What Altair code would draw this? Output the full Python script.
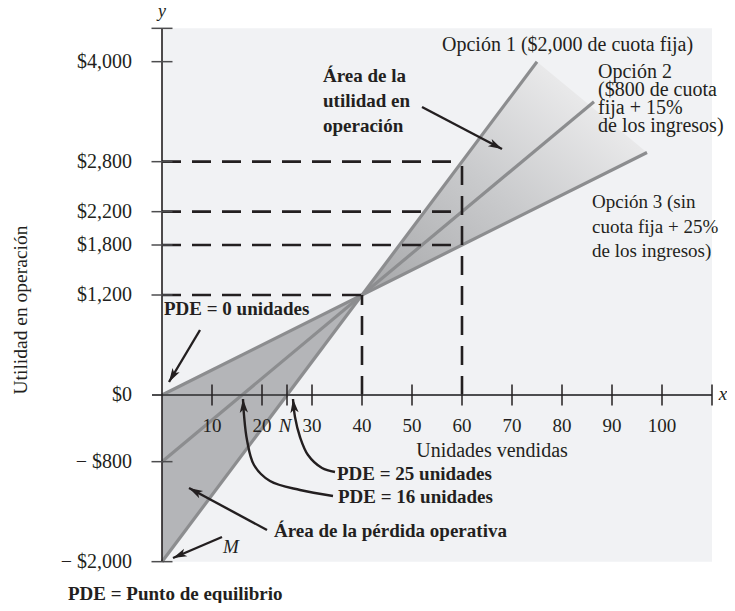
import math
import altair as alt
import pandas as pd

# ---------------- data ----------------
opt_names = ["Opción 1", "Opción 2", "Opción 3"]
opt_x_start = [0, 0, 0]
opt_y_start = [-2000, -800, 0]
opt_x_end = [75, 86.4, 97]
opt_y_end = [4000, 3520, 2910]

loss_x = [0, 40]
loss_low = [-2000, 1200]
loss_high = [0, 1200]

profit_x = [40, 75, 97]
profit_low = [1200, 2250, 2910]
profit_high = [1200, 4000, 2910]

hdash_y = [2800, 2200, 1800, 1200]
hdash_xend = [60, 60, 60, 40]
vdash_x = [40, 60]
vdash_yend = [1200, 2800]

ytick_values = [-2000, -800, 0, 1200, 1800, 2200, 2800, 4000]
ytick_labels = ["\u2212 $2,000", "\u2212 $800", "$0", "$1,200", "$1,800",
                "$2,200", "$2,800", "$4,000"]
ytick_marks = [-2000, -800, 1200, 1800, 2200, 2800, 4000, 4400]
xtick_values = [10, 20, 30, 40, 50, 60, 70, 80, 90, 100]
xtick_labels = ["10", "20", "30", "40", "50", "60", "70", "80", "90", "100"]
xtick_marks = [10, 20, 25, 30, 40, 50, 60, 70, 80, 90, 100, 110]

x_axis_min, x_axis_max = -2, 110
y_axis_min, y_axis_max = -2000, 4400

# ---------------- layout ----------------
W, H = 719, 595
XDOM = [-30.8, 113.0]
YDOM = [-2496.0, 4644.0]
PXX = W / (XDOM[1] - XDOM[0])
PXY = H / (YDOM[1] - YDOM[0])
FONT = "Liberation Serif"
INK = "#231f20"


def X(f="x"):
    return alt.X(f"{f}:Q", scale=alt.Scale(domain=XDOM, nice=False, zero=False), axis=None)


def Y(f="y"):
    return alt.Y(f"{f}:Q", scale=alt.Scale(domain=YDOM, nice=False, zero=False), axis=None)


layers = []

# background panel
bg = pd.DataFrame({"x": [0], "x2": [x_axis_max], "y": [y_axis_min], "y2": [y_axis_max]})
layers.append(alt.Chart(bg).mark_rect(color="#f1f2f4").encode(
    x=X(), x2=alt.X2("x2:Q"), y=Y(), y2=alt.Y2("y2:Q")))

# loss area
loss_df = pd.DataFrame({"x": loss_x, "low": loss_low, "high": loss_high})
layers.append(alt.Chart(loss_df).mark_area(color="#b4b5b8", opacity=1).encode(
    x=X(), y=Y("low"), y2=alt.Y2("high:Q")))

# profit area (gradient)
profit_df = pd.DataFrame({"x": profit_x, "low": profit_low, "high": profit_high})
grad = alt.Gradient(
    gradient="linear",
    stops=[alt.GradientStop(color="#a6a7a9", offset=0),
           alt.GradientStop(color="#c9cacc", offset=0.45),
           alt.GradientStop(color="#eaeaeb", offset=0.82)],
    x1=0, y1=1, x2=1, y2=0)
layers.append(alt.Chart(profit_df).mark_area(color=grad, opacity=1).encode(
    x=X(), y=Y("low"), y2=alt.Y2("high:Q")))

# option lines
rows = []
for n, xs, ys, xe, ye in zip(opt_names, opt_x_start, opt_y_start, opt_x_end, opt_y_end):
    rows.append({"opt": n, "x": xs, "y": ys})
    rows.append({"opt": n, "x": xe, "y": ye})
opt_df = pd.DataFrame(rows)
layers.append(alt.Chart(opt_df).mark_line(color="#8c8d8f", strokeWidth=3.2).encode(
    x=X(), y=Y(), detail="opt:N"))

# dashed guide lines
hd = pd.DataFrame({"x": [0] * len(hdash_y), "x2": hdash_xend, "y": hdash_y})
layers.append(alt.Chart(hd).mark_rule(color=INK, strokeWidth=2.6, strokeDash=[19, 11]).encode(
    x=X(), x2=alt.X2("x2:Q"), y=Y()))
vd = pd.DataFrame({"x": vdash_x, "y": [0] * len(vdash_x), "y2": vdash_yend})
layers.append(alt.Chart(vd).mark_rule(color=INK, strokeWidth=2.6, strokeDash=[19, 11]).encode(
    x=X(), y=Y(), y2=alt.Y2("y2:Q")))

# axes lines
xa = pd.DataFrame({"x": [x_axis_min], "x2": [x_axis_max], "y": [0]})
layers.append(alt.Chart(xa).mark_rule(color="#4d4d4f", strokeWidth=2).encode(
    x=X(), x2=alt.X2("x2:Q"), y=Y()))
ya = pd.DataFrame({"x": [0], "y": [y_axis_min], "y2": [y_axis_max]})
layers.append(alt.Chart(ya).mark_rule(color=INK, strokeWidth=1.6).encode(
    x=X(), y=Y(), y2=alt.Y2("y2:Q")))

# ticks
ytk = pd.DataFrame({"x": [0] * len(ytick_marks), "y": ytick_marks})
layers.append(alt.Chart(ytk).mark_tick(orient="horizontal", size=21, thickness=1.5,
                                       color="#4d4d4f", opacity=1).encode(x=X(), y=Y()))
xtk = pd.DataFrame({"x": xtick_marks, "y": [0] * len(xtick_marks)})
layers.append(alt.Chart(xtk).mark_tick(orient="vertical", size=21, thickness=1.5,
                                       color=INK, opacity=1).encode(x=X(), y=Y()))


def text_layer(xs, ys, texts, **kw):
    props = dict(font=FONT, color=INK, fontSize=20, align="left", baseline="alphabetic")
    props.update(kw)
    df = pd.DataFrame({"x": xs, "y": ys, "t": texts})
    return alt.Chart(df).mark_text(**props).encode(x=X(), y=Y(), text="t:N")


# tick labels
layers.append(text_layer([-6.0] * len(ytick_values), ytick_values, ytick_labels,
                         align="right", baseline="middle", fontSize=20))
layers.append(text_layer(xtick_values, [-444] * len(xtick_values), xtick_labels,
                         align="center", fontSize=19))

# axis names
layers.append(text_layer([0], [4536], ["y"], align="center", fontStyle="italic", fontSize=18))
layers.append(text_layer([112.2], [-60], ["x"], align="center", fontStyle="italic", fontSize=19))
layers.append(text_layer([24.6], [-444], ["N"], align="center", fontStyle="italic", fontSize=19))
layers.append(text_layer([12.2], [-1896], ["M"], fontStyle="italic", fontSize=19))
layers.append(text_layer([66], [-744], ["Unidades vendidas"], align="center"))
layers.append(text_layer([-28.2], [1020], ["Utilidad en operación"], align="center",
                         baseline="middle", angle=270, fontSize=19.5))

# option labels
layers.append(text_layer([56.0], [4128], ["Opción 1 ($2,000 de cuota fija)"]))
layers.append(text_layer([87.2], [3804],
                         ["Opción 2\n($800 de cuota\nfija + 15%\nde los ingresos)"],
                         lineBreak="\n", lineHeight=18))
layers.append(text_layer([86.0], [2244],
                         ["Opción 3 (sin\ncuota fija + 25%\nde los ingresos)"],
                         lineBreak="\n", lineHeight=24.5, fontSize=19))

# bold annotations
B = dict(fontWeight="bold", fontSize=19)
layers.append(text_layer([32.2], [3756], ["Área de la\nutilidad en\noperación"],
                         lineBreak="\n", lineHeight=25, **B))
layers.append(text_layer([0.4], [960], ["PDE = 0 unidades"], **B))
layers.append(text_layer([35.0], [-1020], ["PDE = 25 unidades"], **B))
layers.append(text_layer([35.2], [-1296], ["PDE = 16 unidades"], **B))
layers.append(text_layer([22.4], [-1704], ["Área de la pérdida operativa"], **B))
layers.append(text_layer([-18.8], [-2460], ["PDE = Punto de equilibrio"], **B))

# arrows (last point is the tip)
arrows = {
    "pde0": [(7.6, 780), (1.4, 156)],
    "profit": [(52, 3456), (68, 2952)],
    "M": [(12, -1704), (2.2, -1956)],
    "loss": [(21, -1620), (5.4, -1116)],
    "pde25": [(34.6, -924), (32, -876), (29.2, -720), (27.6, -504), (26.6, -264), (26.2, -48)],
    "pde16": [(34.2, -1212), (27.6, -1140), (21.6, -1032), (18.4, -840), (17, -540),
              (16.4, -240), (16.2, -48)],
}
straight_rows, curve_rows, head_rows = [], [], []
for name, pts in arrows.items():
    target = curve_rows if len(pts) > 2 else straight_rows
    for i, (ax, ay) in enumerate(pts):
        target.append({"id": name, "i": i, "x": ax, "y": ay})
    (x0, y0), (x1, y1) = pts[-2], pts[-1]
    dx = (x1 - x0) * PXX
    dy = -(y1 - y0) * PXY
    ang = math.degrees(math.atan2(dx, -dy)) % 360
    head_rows.append({"id": name, "x": x1, "y": y1, "angle": ang})

layers.append(alt.Chart(pd.DataFrame(straight_rows)).mark_line(
    color=INK, strokeWidth=2.4).encode(x=X(), y=Y(), detail="id:N", order="i:Q"))
layers.append(alt.Chart(pd.DataFrame(curve_rows)).mark_line(
    color=INK, strokeWidth=2.4, interpolate="catmull-rom").encode(
    x=X(), y=Y(), detail="id:N", order="i:Q"))
ARROW = "M0,0 L0.6,2 L0,1.5 L-0.6,2 Z"
layers.append(alt.Chart(pd.DataFrame(head_rows)).mark_point(
    shape=ARROW, filled=True, size=190, color=INK, opacity=1, strokeWidth=0).encode(
    x=X(), y=Y(), angle=alt.Angle("angle:Q", scale=None)))

chart = alt.layer(*layers).properties(
    width=W, height=H, padding=0, autosize=alt.AutoSizeParams(type="none")
).configure_view(stroke=None)

chart.save("out.html", embed_options={"renderer": "svg", "actions": False})
